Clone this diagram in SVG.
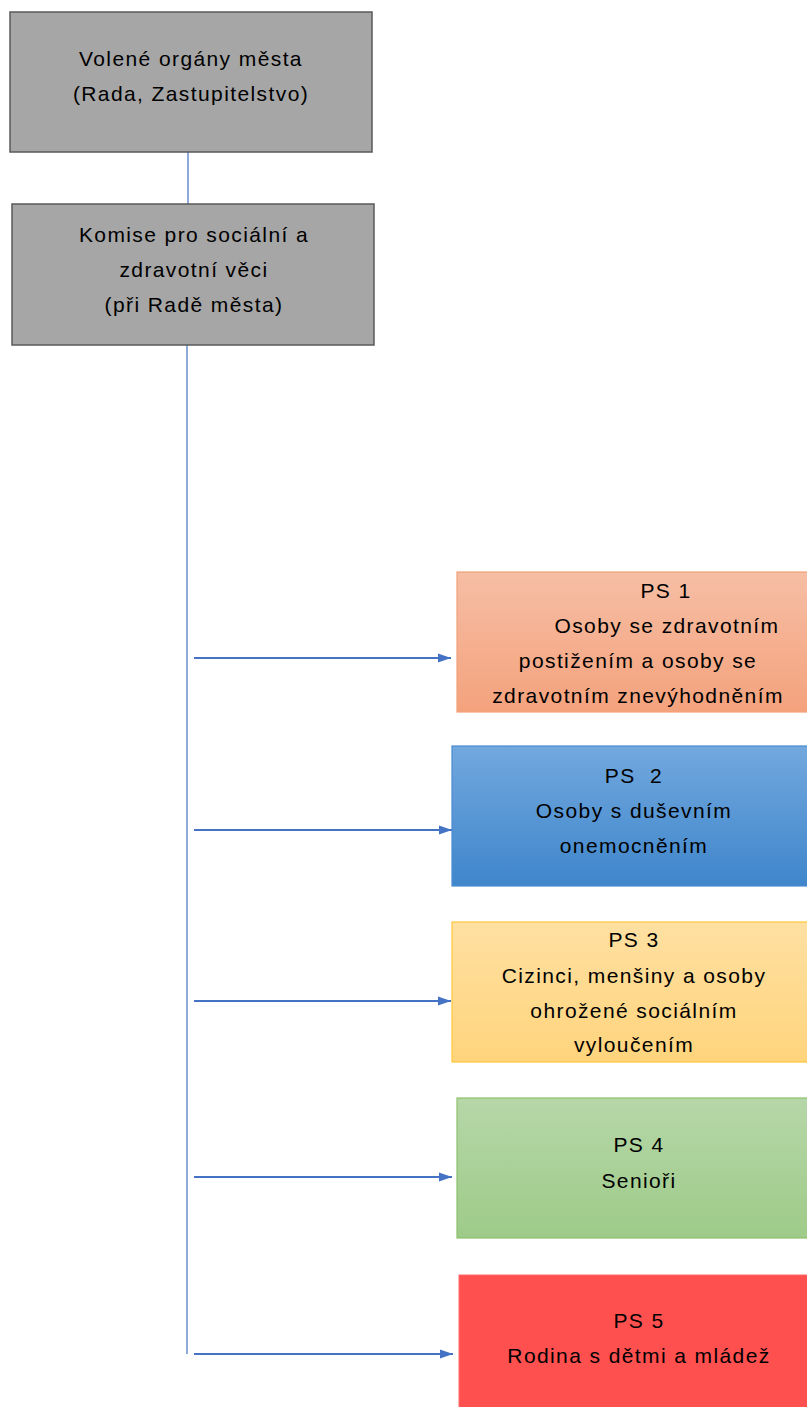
<svg xmlns="http://www.w3.org/2000/svg" width="807" height="1407" viewBox="0 0 807 1407">
<defs>
<linearGradient id="g1" x1="0" y1="0" x2="0" y2="1"><stop offset="0" stop-color="#f6bea5"/><stop offset="1" stop-color="#f4a27c"/></linearGradient>
<linearGradient id="g2" x1="0" y1="0" x2="0" y2="1"><stop offset="0" stop-color="#72a8de"/><stop offset="1" stop-color="#3f86cb"/></linearGradient>
<linearGradient id="g3" x1="0" y1="0" x2="0" y2="1"><stop offset="0" stop-color="#ffe0a2"/><stop offset="1" stop-color="#ffd47c"/></linearGradient>
<linearGradient id="g4" x1="0" y1="0" x2="0" y2="1"><stop offset="0" stop-color="#b6d7a8"/><stop offset="1" stop-color="#9ecb89"/></linearGradient>
<marker id="ah" markerWidth="13" markerHeight="10" refX="13" refY="5" orient="auto" markerUnits="userSpaceOnUse"><path d="M0,0.5 L13,5 L0,9.5 z" fill="#4472c4"/></marker>
</defs>
<style>
text{font-family:"Liberation Sans",Arial,sans-serif;font-size:21px;letter-spacing:1.4px;fill:#000;text-anchor:middle}
.grey{fill:#a6a6a6;stroke:#595959;stroke-width:1.5}
.ln{stroke:#4472c4;stroke-width:1.2;fill:none}
.ar{stroke:#4472c4;stroke-width:1.8;fill:none;marker-end:url(#ah)}
</style>
<rect width="807" height="1407" fill="#fff"/>
<g id="connectors">
<line class="ln" x1="188" y1="152" x2="188" y2="204"/>
<line class="ln" x1="187" y1="345" x2="187" y2="1354"/>
<line class="ar" x1="194" y1="658" x2="451" y2="658"/>
<line class="ar" x1="194" y1="830" x2="452" y2="830"/>
<line class="ar" x1="194" y1="1001" x2="451" y2="1001"/>
<line class="ar" x1="194" y1="1177" x2="452" y2="1177"/>
<line class="ar" x1="194" y1="1354" x2="453" y2="1354"/>
</g>
<g id="n1">
<rect class="grey" x="10" y="12" width="362" height="140"/>
<text x="191" y="66">Volené orgány města</text>
<text x="191" y="101">(Rada, Zastupitelstvo)</text>
</g>
<g id="n2">
<rect class="grey" x="12" y="204" width="362" height="141"/>
<text x="194" y="242">Komise pro sociální a</text>
<text x="194" y="277">zdravotní věci</text>
<text x="194" y="312">(při Radě města)</text>
</g>
<g id="ps1">
<rect x="457" y="572" width="360" height="140" fill="url(#g1)" stroke="#f2a177" stroke-width="1.2"/>
<text x="666" y="598">PS 1</text>
<text x="667" y="633">Osoby se zdravotním</text>
<text x="638" y="668">postižením a osoby se</text>
<text x="638" y="703">zdravotním znevýhodněním</text>
</g>
<g id="ps2">
<rect x="452" y="746" width="365" height="140" fill="url(#g2)" stroke="#4a8ad0" stroke-width="1.2"/>
<text x="634" y="783" xml:space="preserve">PS  2</text>
<text x="634" y="818">Osoby s duševním</text>
<text x="634" y="853">onemocněním</text>
</g>
<g id="ps3">
<rect x="452" y="922" width="365" height="140" fill="url(#g3)" stroke="#ffc63a" stroke-width="1.2"/>
<text x="634" y="947">PS 3</text>
<text x="634" y="983">Cizinci, menšiny a osoby</text>
<text x="634" y="1018">ohrožené sociálním</text>
<text x="634" y="1052">vyloučením</text>
</g>
<g id="ps4">
<rect x="457" y="1098" width="360" height="140" fill="url(#g4)" stroke="#8cc06c" stroke-width="1.2"/>
<text x="639" y="1152">PS 4</text>
<text x="639" y="1188">Senioři</text>
</g>
<g id="ps5">
<rect x="459" y="1275" width="360" height="140" fill="#ff5050" stroke="#ff6b6b" stroke-width="1"/>
<text x="639" y="1328">PS 5</text>
<text x="639" y="1363">Rodina s dětmi a mládež</text>
</g>
</svg>
